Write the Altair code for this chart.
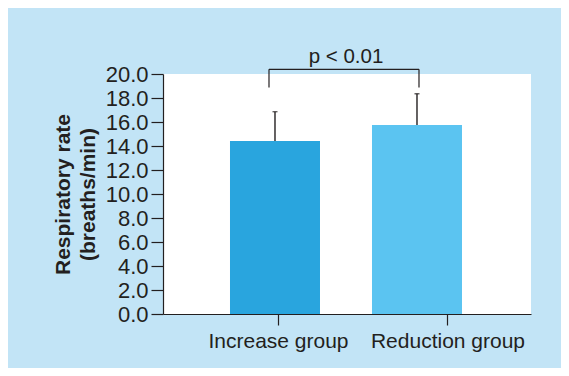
import altair as alt
import pandas as pd

groups = ["Increase group", "Reduction group"]
means = [14.42, 15.75]
upper = [16.86, 18.36]
bar_colors = ["#29a5de", "#5bc4f1"]
y_ticks = [0, 2, 4, 6, 8, 10, 12, 14, 16, 18, 20]
p_label = "p < 0.01"
bracket_top = 20.39
bracket_leg = 18.875
p_text_y = 20.95

FONT = "Liberation Sans"
INK = "#231f20"

df = pd.DataFrame({"group": groups, "mean": means, "upper": upper, "color": bar_colors})

scaleA = alt.Scale(type="band", domain=groups, paddingInner=0.3662, paddingOuter=0.4789, align=0.4926)
scaleB = alt.Scale(type="point", domain=groups, padding=0.5855, align=0.5793)
yscale = alt.Scale(domain=[0, 20], nice=False, zero=True)

xA_axis = alt.Axis(labels=False, ticks=False, domain=True, domainColor=INK, domainWidth=1.2, title=None, grid=False)

y_axis = alt.Axis(
    values=y_ticks, format=".1f", grid=False, labelOverlap=False,
    tickSize=12, tickColor=INK, tickWidth=1.2,
    domainColor=INK, domainWidth=1.2,
    labelFont=FONT, labelFontSize=22, labelColor=INK, labelPadding=3,
    title=["Respiratory rate", "(breaths/min)"],
    titleFont=FONT, titleFontSize=21, titleFontWeight="bold", titleColor=INK,
    titleAngle=-90, titleAlign="center", titleBaseline="middle",
    titleLineHeight=25, titleX=-100, titleY=120,
)


def X(field):
    return alt.X(field, type="nominal", scale=scaleA, axis=xA_axis)


def Y(field):
    return alt.Y(field, type="quantitative", scale=yscale, axis=y_axis)


base = alt.Chart(df)

bars = base.mark_bar(size=90).encode(
    x=X("group"), y=Y("mean"),
    color=alt.Color("color:N", scale=None),
)

err = base.mark_rule(color=INK, strokeWidth=1.4).encode(
    x=X("group"), y=Y("mean"), y2="upper:Q",
)
caps = base.mark_tick(color=INK, size=5, thickness=1.4).encode(
    x=X("group"), y=Y("upper"),
)

br_df = pd.DataFrame({"x": [groups[0]], "x2": [groups[1]], "top": [bracket_top], "leg": [bracket_leg], "p": [p_text_y]})
br = alt.Chart(br_df)
br_h = br.mark_rule(color=INK, strokeWidth=1.2, xOffset=-6, x2Offset=2).encode(
    x=X("x"), x2="x2:N", y=Y("top"),
)
br_l = br.mark_rule(color=INK, strokeWidth=1.2, xOffset=-6).encode(
    x=X("x"), y=Y("top"), y2="leg:Q",
)
br_r = br.mark_rule(color=INK, strokeWidth=1.2, xOffset=2).encode(
    x=X("x2"), y=Y("top"), y2="leg:Q",
)
ptxt = br.mark_text(text=p_label, font=FONT, fontSize=20.5, color=INK, baseline="alphabetic", align="center", dx=71).encode(
    x=X("x"), y=Y("p"),
)

label_layer = base.mark_point(opacity=0).encode(
    x=alt.X("group:N", scale=scaleB, axis=alt.Axis(
        orient="bottom", domain=False, ticks=True, tickSize=11, tickColor=INK, tickWidth=1.2,
        labelFont=FONT, labelFontSize=21, labelColor=INK, labelPadding=5, labelAngle=0,
        title=None, grid=False, labelLimit=0)),
    y=Y("mean"),
)

main = alt.layer(bars, err, caps, br_h, br_l, br_r, ptxt)

chart = alt.layer(main, label_layer).resolve_scale(x="independent").properties(
    width=368, height=240,
    background="#c2e4f6",
    padding={"left": 155, "top": 66, "right": 30, "bottom": 54},
    autosize=alt.AutoSizeParams(type="none"),
).configure_view(stroke=None, fill="white")

chart.save("out.html", embed_options={"renderer": "svg", "actions": False})
